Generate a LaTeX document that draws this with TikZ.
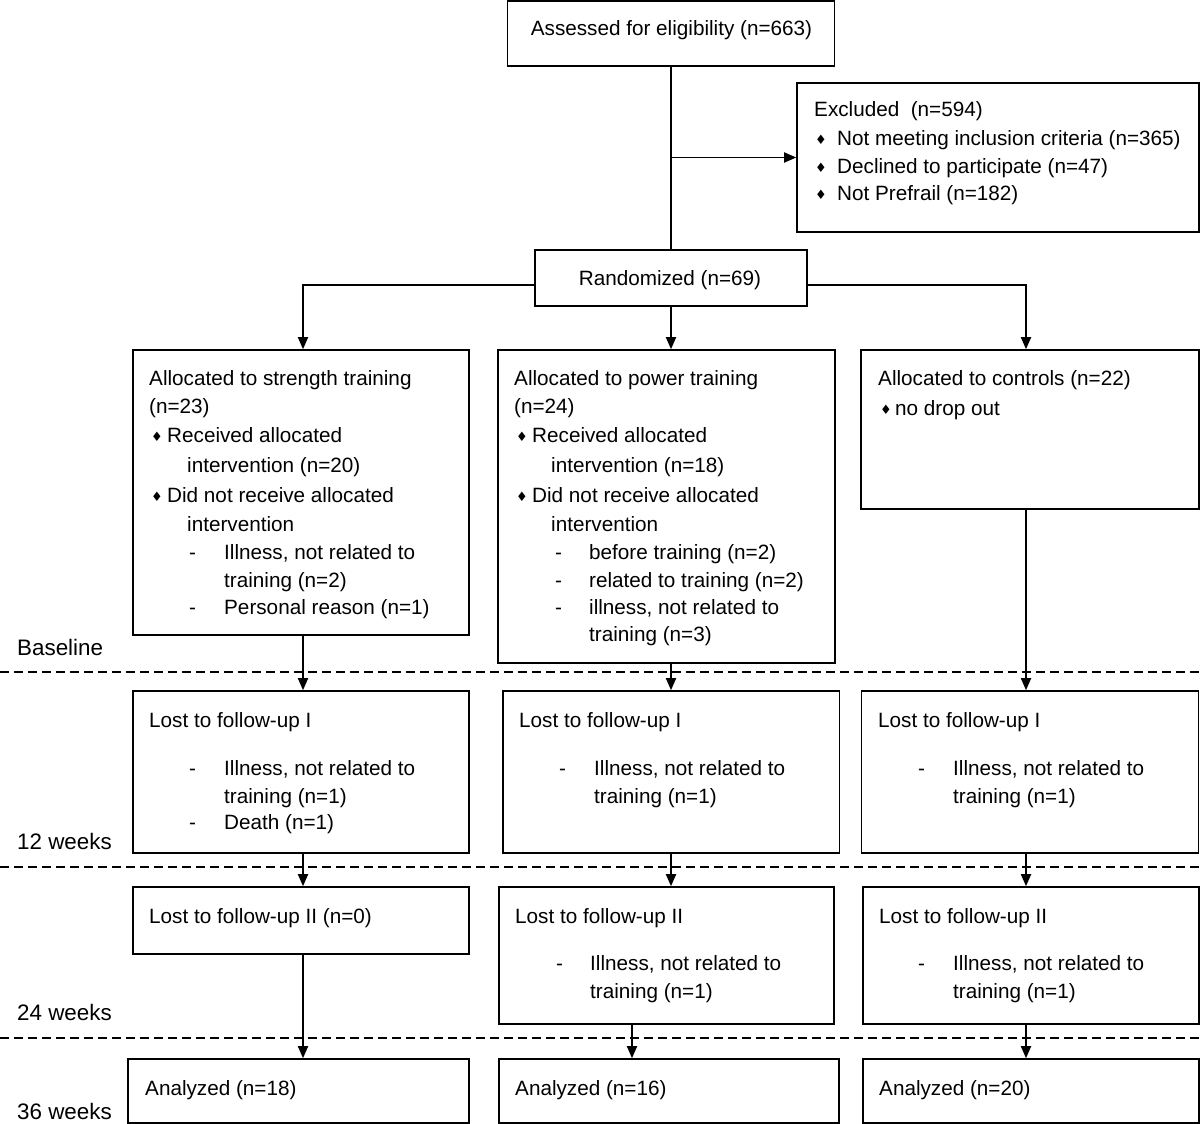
\documentclass[tikz,border=0pt]{standalone}
\usepackage{fontspec}
\setmainfont{Liberation Sans}
\newfontfamily\dejavufam{DejaVu Sans}
\usetikzlibrary{arrows.meta}
\newcommand\mainfs{\fontsize{20.7}{24}\selectfont}
\newcommand\labfs{\fontsize{22.4}{26}\selectfont}
\newcommand\mybulglyph{{\dejavufam\fontsize{13}{13}\selectfont\raisebox{0.8pt}{♦}}}
\newcommand\mytxt[4]{\node[tl] (#1) at (#2,#3) {#4};}
\newcommand\mybul[5]{\node[tl] (#1) at (#2,#3) {\makebox[#4pt][l]{\mybulglyph}#5};}
\newcommand\mydash[5]{\node[tl] (#1) at (#2,#3) {\makebox[#4pt][l]{-}#5};}
\begin{document}
\begin{tikzpicture}[x=1pt,y=-1pt,
  box/.style={draw, line width=1.6pt, inner sep=0pt, rectangle},
  tl/.style={anchor=base west, inner sep=0pt, font=\mainfs},
  lab/.style={anchor=base west, inner sep=0pt, font=\labfs},
  arr/.style={line width=1.8pt, -{Triangle[length=12pt,width=10pt]}},
  ln/.style={line width=1.8pt},
  sepline/.style={line width=1.3pt, dash pattern=on 9pt off 5pt}]
\useasboundingbox (0,0) rectangle (1200,1124);

% column coordinates
\coordinate (cS) at (303,0);
\coordinate (cP) at (671,0);
\coordinate (cP2) at (632,0);
\coordinate (cC) at (1026,0);

% boxes
\node[box, minimum width=327pt, minimum height=65pt] (assess) at (671,33.5) {};
\node[box, minimum width=402pt, minimum height=149pt] (excl) at (998,157.5) {};
\node[box, minimum width=272pt, minimum height=56pt] (rand) at (671,278) {};
\node[box, minimum width=336pt, minimum height=285pt] (str) at (301,492.5) {};
\node[box, minimum width=337pt, minimum height=313pt] (pow) at (666.5,506.5) {};
\node[box, minimum width=338pt, minimum height=159pt] (ctl) at (1030,429.5) {};
\node[box, minimum width=336pt, minimum height=162pt] (s1) at (301,772) {};
\node[box, minimum width=336.5pt, minimum height=162pt] (p1) at (671.25,772) {};
\node[box, minimum width=337pt, minimum height=162pt] (c1) at (1030,772) {};
\node[box, minimum width=336pt, minimum height=67pt] (s2) at (301,920.5) {};
\node[box, minimum width=335pt, minimum height=137pt] (p2) at (666.5,955.5) {};
\node[box, minimum width=336pt, minimum height=137pt] (c2) at (1031,955.5) {};
\node[box, minimum width=341pt, minimum height=64pt] (s3) at (298.5,1091) {};
\node[box, minimum width=340pt, minimum height=64pt] (p3) at (669.25,1091) {};
\node[box, minimum width=336pt, minimum height=64pt] (c3) at (1031,1091) {};

% separators
\draw[sepline] (0,672) -- (1200,672);
\draw[sepline] (0,867) -- (1200,867);
\draw[sepline] (0,1038) -- (1200,1038);

% texts
\node[tl, anchor=base] (tA) at (671.5,36) {Assessed for eligibility (n=663)};
\mytxt{tE0}{814}{117}{Excluded\ \ (n=594)}
\mybul{tE1}{815}{145.5}{22}{Not meeting inclusion criteria (n=365)}
\mybul{tE2}{815}{173}{22}{Declined to participate (n=47)}
\mybul{tE3}{815}{200.5}{22}{Not Prefrail (n=182)}
\node[tl, anchor=base] (tR) at (670,285.5) {Randomized (n=69)};

\mytxt{s0a}{149}{385.5}{Allocated to strength training}
\mytxt{s0b}{149}{413.5}{(n=23)}
\mybul{s0c}{151}{442.5}{16}{Received allocated}
\mytxt{s0d}{187}{472.5}{intervention (n=20)}
\mybul{s0e}{151}{502.5}{16}{Did not receive allocated}
\mytxt{s0f}{187}{531.5}{intervention}
\mydash{s0g}{189}{559.5}{35}{Illness, not related to}
\mytxt{s0h}{224}{587.5}{training (n=2)}
\mydash{s0i}{189}{614.5}{35}{Personal reason (n=1)}

\mytxt{p0a}{514}{385.5}{Allocated to power training}
\mytxt{p0b}{514}{413.5}{(n=24)}
\mybul{p0c}{516}{442.5}{16}{Received allocated}
\mytxt{p0d}{551}{472.5}{intervention (n=18)}
\mybul{p0e}{516}{502.5}{16}{Did not receive allocated}
\mytxt{p0f}{551}{531.5}{intervention}
\mydash{p0g}{555}{559.5}{34}{before training (n=2)}
\mydash{p0h}{555}{587.5}{34}{related to training (n=2)}
\mydash{p0i}{555}{614.5}{34}{illness, not related to}
\mytxt{p0j}{589}{641.5}{training (n=3)}

\mytxt{c0a}{878}{385.5}{Allocated to controls (n=22)}
\mybul{c0b}{880}{415}{15}{no drop out}

\mytxt{s1a}{149}{727.5}{Lost to follow-up I}
\mydash{s1b}{189}{775.5}{35}{Illness, not related to}
\mytxt{s1c}{224}{803}{training (n=1)}
\mydash{s1d}{189}{829.5}{35}{Death (n=1)}

\mytxt{p1a}{519}{727.5}{Lost to follow-up I}
\mydash{p1b}{559}{775.5}{35}{Illness, not related to}
\mytxt{p1c}{594}{803}{training (n=1)}

\mytxt{c1a}{878}{727.5}{Lost to follow-up I}
\mydash{c1b}{918}{775.5}{35}{Illness, not related to}
\mytxt{c1c}{953}{803}{training (n=1)}

\mytxt{s2a}{149}{923.5}{Lost to follow-up II (n=0)}

\mytxt{p2a}{515}{923.5}{Lost to follow-up II}
\mydash{p2b}{556}{970.5}{34}{Illness, not related to}
\mytxt{p2c}{590}{998.5}{training (n=1)}

\mytxt{c2a}{879}{923.5}{Lost to follow-up II}
\mydash{c2b}{918}{970.5}{35}{Illness, not related to}
\mytxt{c2c}{953}{998.5}{training (n=1)}

\mytxt{s3a}{145}{1095.5}{Analyzed (n=18)}
\mytxt{p3a}{515}{1095.5}{Analyzed (n=16)}
\mytxt{c3a}{879}{1095.5}{Analyzed (n=20)}

\node[lab] (lb0) at (17,655) {Baseline};
\node[lab] (lb1) at (17,849.5) {12 weeks};
\node[lab] (lb2) at (17,1020.5) {24 weeks};
\node[lab] (lb3) at (17,1119) {36 weeks};

% connectors
\draw[ln] (assess.south) -- (rand.north);
\draw[arr] (assess.south |- excl.west) -- (excl.west);
\draw[arr] ([yshift=-7pt]rand.west) -| (str.north -| cS);
\draw[arr] ([yshift=-7pt]rand.east) -| (ctl.north -| cC);
\draw[arr] (rand.south) -- (pow.north -| rand.south);

\draw[arr] (str.south -| cS) -- (s1.north -| cS);
\draw[arr] (s1.south -| cS) -- (s2.north -| cS);
\draw[arr] (s2.south -| cS) -- (s3.north -| cS);

\draw[arr] (pow.south -| cP) -- (p1.north -| cP);
\draw[arr] (p1.south -| cP) -- (p2.north -| cP);
\draw[arr] (p2.south -| cP2) -- (p3.north -| cP2);

\draw[arr] (ctl.south -| cC) -- (c1.north -| cC);
\draw[arr] (c1.south -| cC) -- (c2.north -| cC);
\draw[arr] (c2.south -| cC) -- (c3.north -| cC);
\end{tikzpicture}
\end{document}
